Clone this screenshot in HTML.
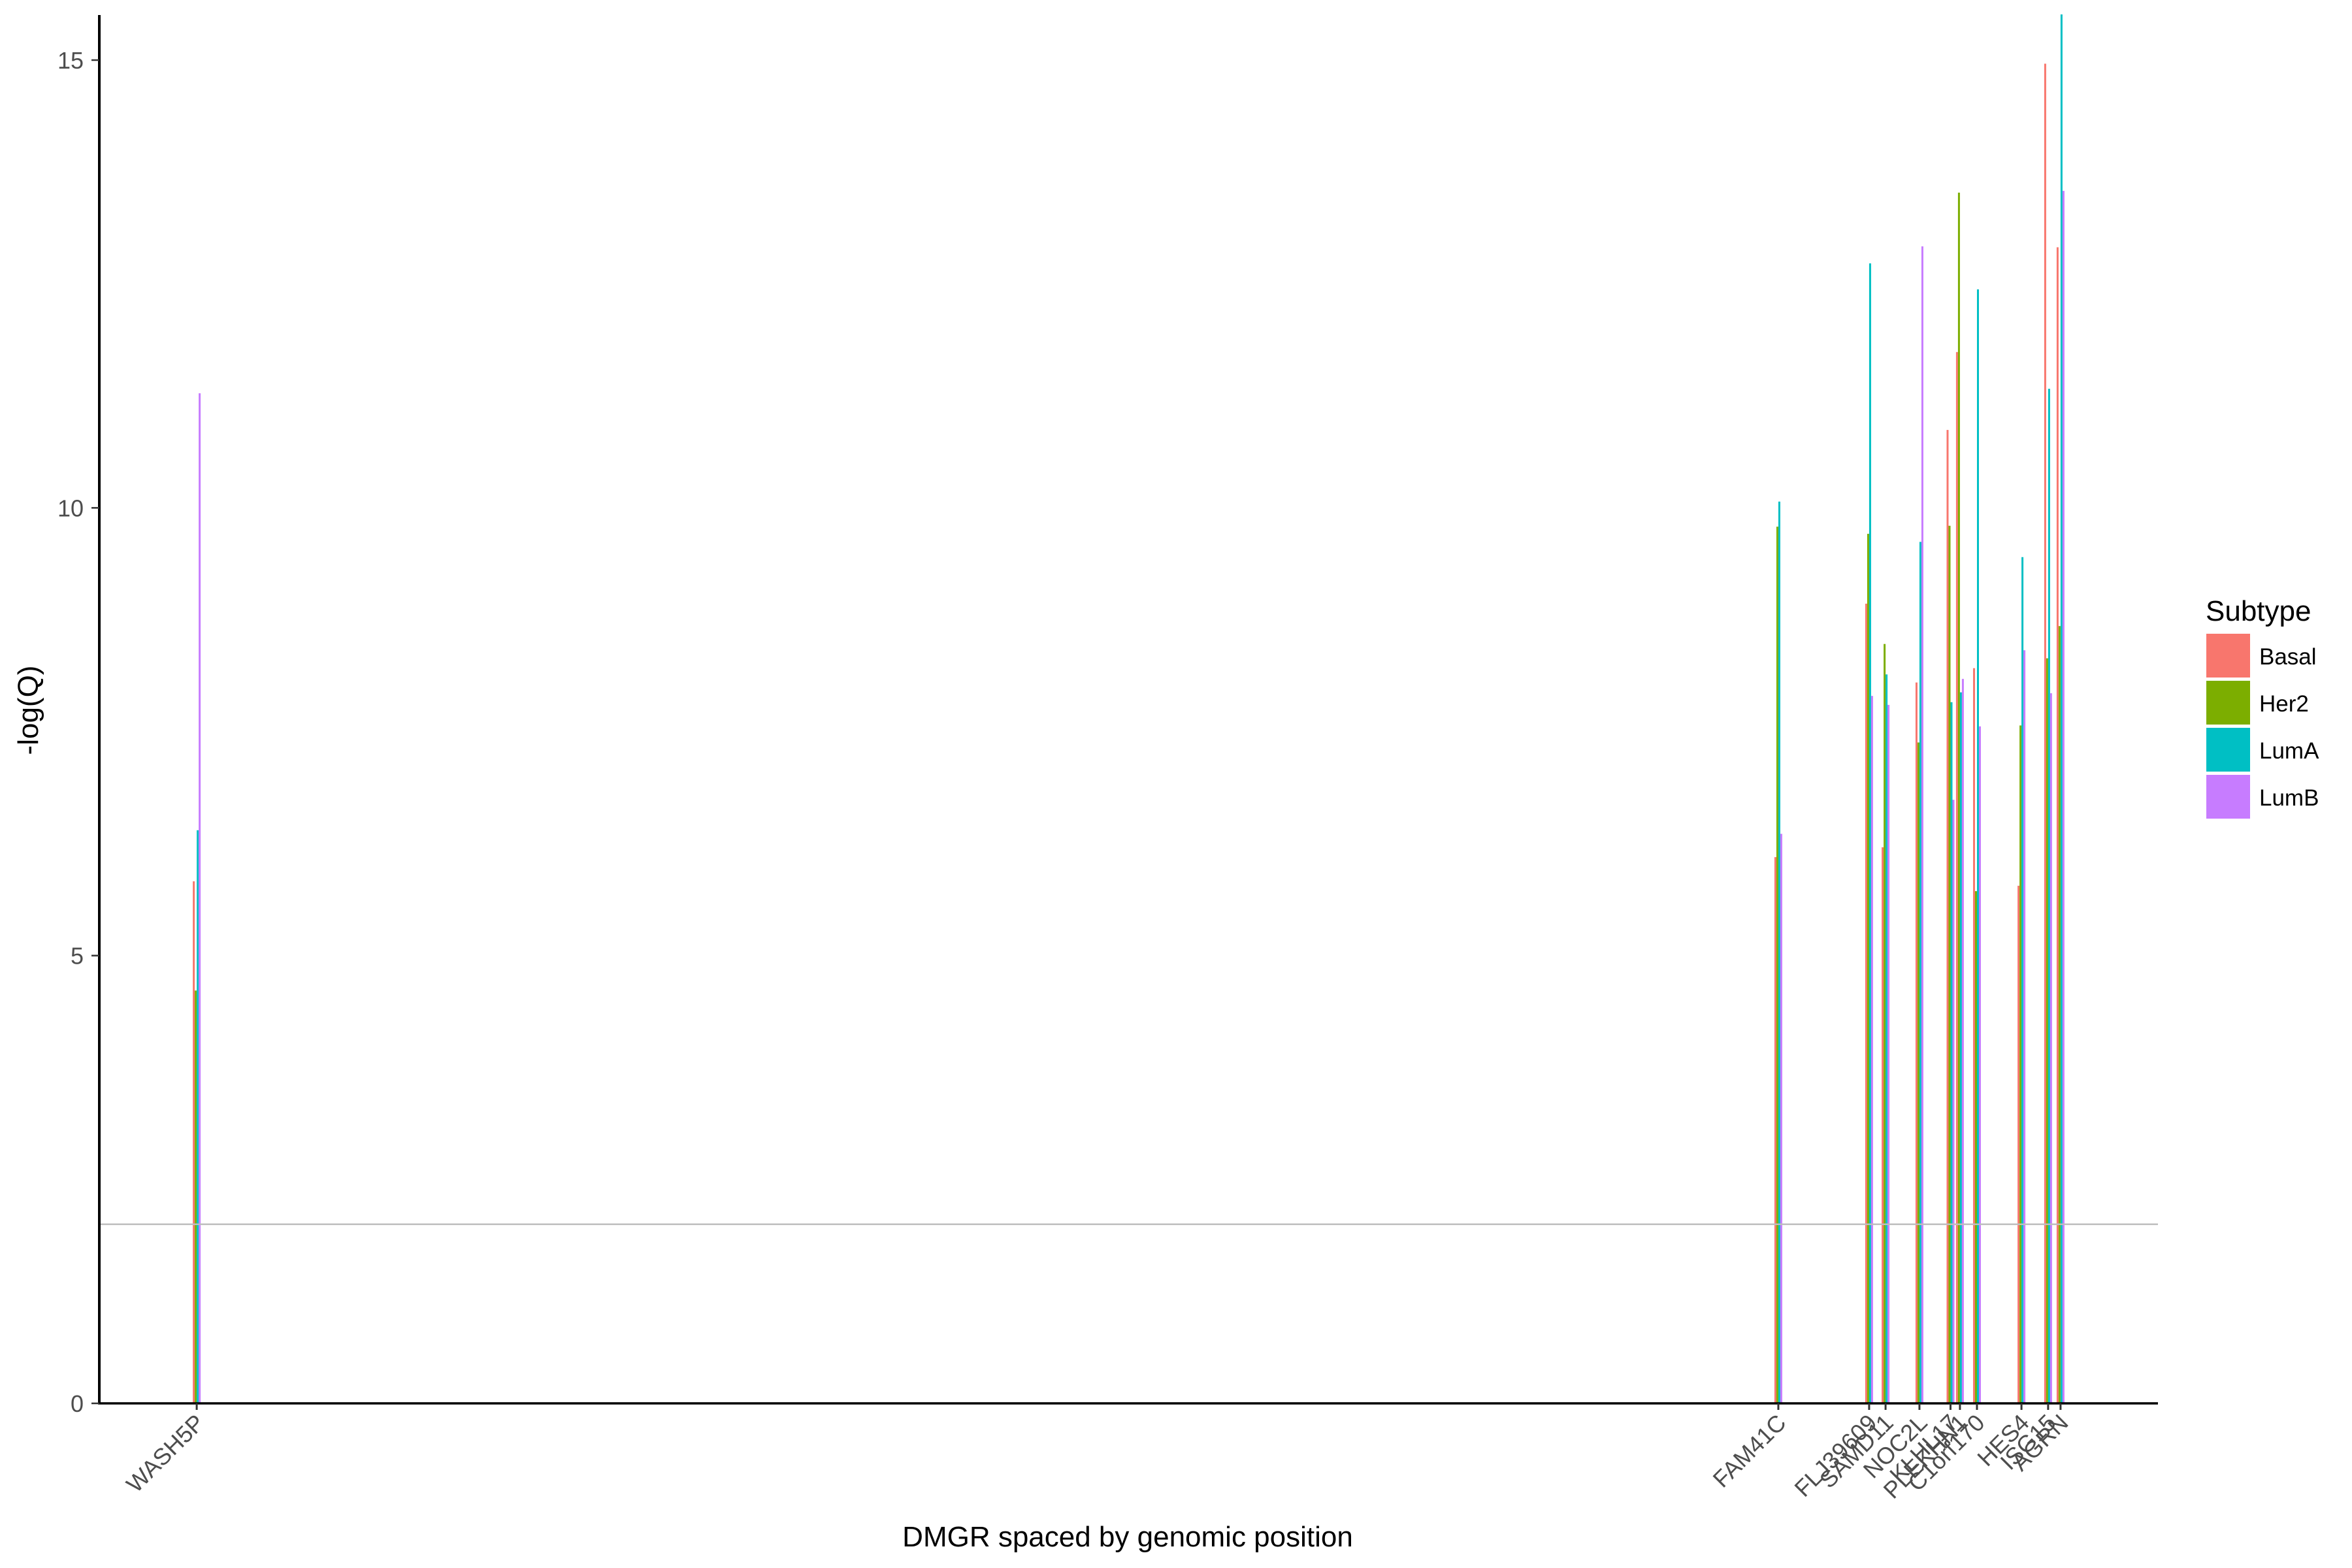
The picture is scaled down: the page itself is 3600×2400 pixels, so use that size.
<!DOCTYPE html>
<html><head><meta charset="utf-8">
<style>html,body{margin:0;padding:0;background:#fff;}svg{display:block;}</style>
</head><body>
<svg id="chart" xmlns="http://www.w3.org/2000/svg" width="3600" height="2400" viewBox="0 0 3600 2400" font-family="Liberation Sans, Arial, sans-serif">
<rect width="3600" height="2400" fill="#fff"/>
<g id="bars"></g>
<g id="axes"></g>
<text x="0" y="0" transform="translate(58,1087) rotate(-90)" text-anchor="middle" font-size="44" fill="#000">-log(Q)</text>
<text x="1726" y="2367" text-anchor="middle" font-size="44" fill="#000">DMGR spaced by genomic position</text>
<g id="legend">
<text x="3376" y="950" font-size="44" fill="#000">Subtype</text>
</g>
</svg>
<script>
const genes = ["WASH5P","FAM41C","FLJ39609","SAMD11","NOC2L","KLHL17","PLEKHN1","C1orf170","HES4","ISG15","AGRN"];
const positionsKb = [14, 803.1, 848.4, 856.6, 873.5, 889.0, 893.7, 902.2, 924.4, 937.7, 943.9];
const subtypes = ["Basal","Her2","LumA","LumB"];
const basal = [5.83, 6.10, 8.93, 6.21, 8.05, 10.87, 11.74, 8.21, 5.78, 14.96, 12.91];
const her2  = [4.61, 9.79, 9.71, 8.48, 7.38, 9.80, 13.52, 5.72, 7.57, 8.32, 8.68];
const lumA  = [6.40, 10.07, 12.73, 8.14, 9.62, 7.83, 7.94, 12.44, 9.45, 11.33, 15.51];
const lumB  = [11.28, 6.36, 7.90, 7.80, 12.92, 6.74, 8.09, 7.56, 8.41, 7.93, 13.54];
const yTicks = [0, 5, 10, 15];
const threshold = [2];

const colors = ["#F8766D","#7CAE00","#00BFC4","#C77CFF"];
const series = [basal, her2, lumA, lumB];
const NS = "http://www.w3.org/2000/svg";
const L = 152, R = 3303, T = 23, B = 2148;
const xDom = [-34.6, 992.5], yDom = [0, 15];
const xS = v => L + (v - xDom[0]) / (xDom[1] - xDom[0]) * (R - L);
const yS = v => B - (v - yDom[0]) / (yDom[1] - yDom[0]) * (B - 92);
const bw = 3;
function mk(tag, attrs, parent) {
  const e = document.createElementNS(NS, tag);
  for (const k in attrs) e.setAttribute(k, attrs[k]);
  parent.appendChild(e);
  return e;
}
const gb = document.getElementById("bars");
const ga = document.getElementById("axes");
const gl = document.getElementById("legend");

series.forEach((vals, s) => {
  vals.forEach((v, i) => {
    const cx = xS(positionsKb[i]) + (s - 2) * bw;
    const r = mk("rect", {x: cx, y: yS(v), width: bw, height: yS(0) - yS(v), fill: colors[s]}, gb);
    
    
  });
});

threshold.forEach(t => {
  const l = mk("line", {x1: L, x2: R, y1: yS(t), y2: yS(t), stroke: "#bebebe", "stroke-width": 2.5}, ga);
  
  
});

const ya = mk("line", {x1: L, x2: L, y1: T, y2: B + 1.5, stroke: "#000", "stroke-width": 4}, ga);


const xa = mk("line", {x1: L - 2, x2: R, y1: B, y2: B, stroke: "#000", "stroke-width": 3.5}, ga);



yTicks.forEach(t => {
  const tk = mk("line", {x1: L - 12, x2: L, y1: yS(t), y2: yS(t), stroke: "#333", "stroke-width": 2.5}, ga);
  
  
  const tx = mk("text", {x: 128, y: yS(t) + 13, "text-anchor": "end", "font-size": 36, fill: "#4d4d4d"}, ga);
  tx.textContent = t;
  
  
});

genes.forEach((g, i) => {
  const x = xS(positionsKb[i]);
  const tk = mk("line", {x1: x, x2: x, y1: B, y2: B + 10, stroke: "#333", "stroke-width": 3}, ga);
  
  
  const tx = mk("text", {x: 0, y: 0, transform: "translate(" + (x + 14) + "," + (B + 32) + ") rotate(-45)", "text-anchor": "end", "font-size": 36, fill: "#4d4d4d"}, ga);
  tx.textContent = g;
  
  
});

subtypes.forEach((s, i) => {
  const y0 = 970 + i * 72;
  const r = mk("rect", {x: 3377, y: y0, width: 67, height: 67, fill: colors[i]}, gl);
  
  
  const t = mk("text", {x: 3458, y: y0 + 47, "font-size": 35, fill: "#000"}, gl);
  t.textContent = s;
  
  
});
</script>
</body></html>
